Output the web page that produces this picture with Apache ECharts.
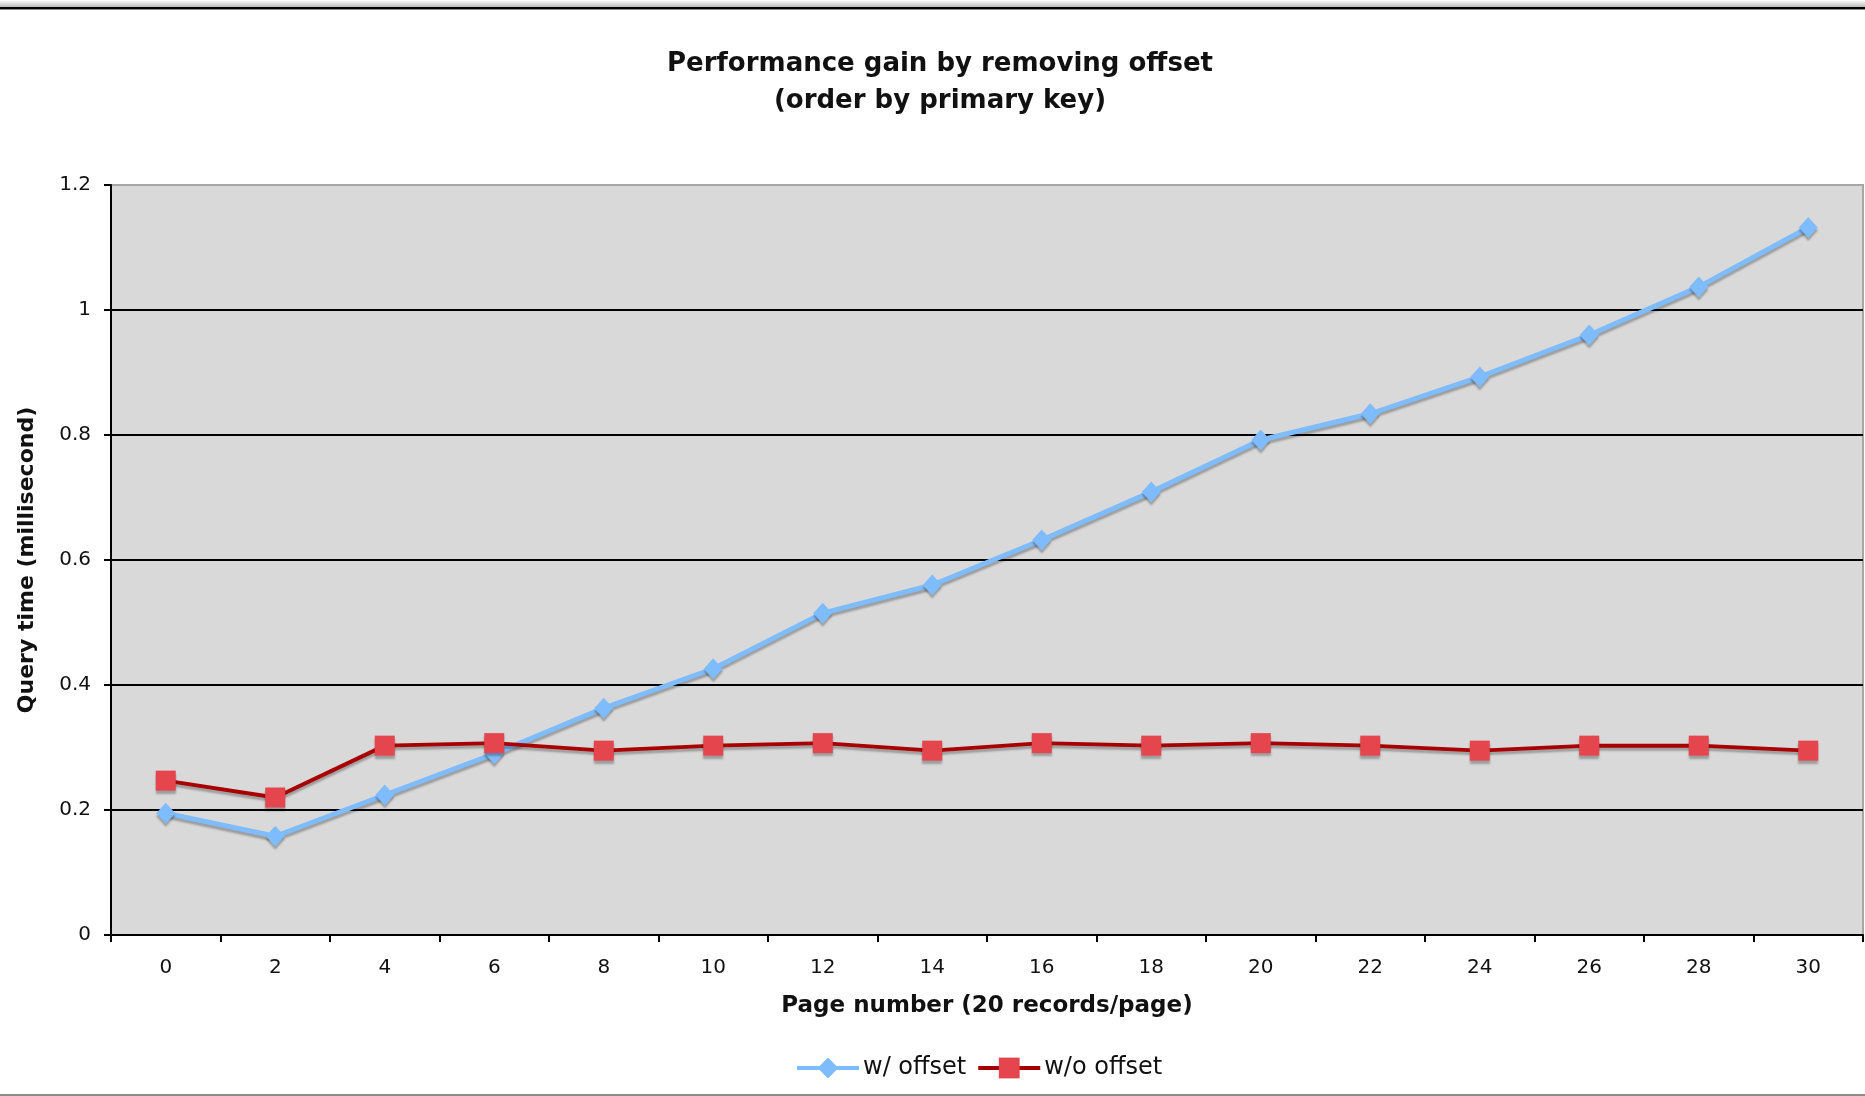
<!DOCTYPE html>
<html>
<head>
<meta charset="utf-8">
<script src="https://cdn.jsdelivr.net/npm/echarts@6/dist/echarts.min.js"></script>
<style>
html,body{margin:0;padding:0;background:#fff;}
#chart{width:1865px;height:1096px;}
</style>
</head>
<body>
<div id="chart"></div>
<script>
const pages = ['0','2','4','6','8','10','12','14','16','18','20','22','24','26','28','30'];
const withOffset = [0.195, 0.158, 0.224, 0.290, 0.363, 0.426, 0.515, 0.560, 0.632, 0.709, 0.792, 0.834, 0.893, 0.960, 1.037, 1.132];
const withoutOffset = [0.247, 0.220, 0.303, 0.307, 0.295, 0.303, 0.307, 0.295, 0.307, 0.303, 0.307, 0.303, 0.295, 0.303, 0.303, 0.295];
const yTicks = { min: 0, max: 1.2, interval: 0.2 };

const FONT = '"DejaVu Sans", Verdana, sans-serif';
const TXT = '#111';
const chart = echarts.init(document.getElementById('chart'), null, {renderer: 'canvas'});
const shadow = { shadowColor: 'rgba(0,0,0,0.28)', shadowBlur: 2, shadowOffsetX: 0, shadowOffsetY: 3 };

chart.setOption({
  backgroundColor: '#fff',
  animation: false,
  title: {
    text: 'Performance gain by removing offset\n(order by primary key)',
    left: 935, top: 41, textAlign: 'center',
    textStyle: { fontFamily: FONT, fontWeight: 'bold', fontSize: 26, lineHeight: 37, color: TXT }
  },
  legend: {
    left: 790, top: 1051,
    itemWidth: 62, itemHeight: 26, itemGap: 10,
    lineStyle: { width: 4 },
    textStyle: { fontFamily: FONT, fontSize: 24, color: TXT, padding: [0,0,0,-1] },
    data: ['w/ offset', 'w/o offset']
  },
  grid: {
    left: 111, right: 2, top: 185, bottom: 161,
    show: true, backgroundColor: '#d9d9d9', borderColor: '#a6a6a6', borderWidth: 2
  },
  xAxis: {
    type: 'category', data: pages, boundaryGap: true,
    name: 'Page number (20 records/page)', nameLocation: 'middle', nameGap: 60,
    nameTextStyle: { fontFamily: FONT, fontWeight: 'bold', fontSize: 23, color: TXT },
    axisLine: { lineStyle: { color: '#000', width: 2 } },
    axisTick: { show: true, length: 7, lineStyle: { color: '#000', width: 2 } },
    axisLabel: { interval: 0, margin: 23, fontFamily: FONT, fontSize: 20, color: TXT },
    splitLine: { show: false }
  },
  yAxis: {
    type: 'value', min: yTicks.min, max: yTicks.max, interval: yTicks.interval,
    name: 'Query time (millisecond)', nameLocation: 'middle', nameGap: 73,
    nameTextStyle: { fontFamily: FONT, fontWeight: 'bold', fontSize: 22, color: TXT },
    axisLine: { show: true, lineStyle: { color: '#000', width: 2 } },
    axisTick: { show: true, length: 7, lineStyle: { color: '#000', width: 2 } },
    axisLabel: { margin: 20, fontFamily: FONT, fontSize: 20, color: TXT,
      formatter: v => (Math.round(v * 10) / 10).toString() },
    splitLine: { show: true, showMinLine: false, showMaxLine: false, lineStyle: { color: '#000', width: 2 } }
  },
  series: [
    {
      name: 'w/ offset', type: 'line', data: withOffset,
      symbol: 'diamond', symbolSize: [19, 21],
      lineStyle: Object.assign({ color: '#7fbcff', width: 5 }, shadow),
      itemStyle: Object.assign({ color: '#7fbcff' }, shadow),
      z: 3
    },
    {
      name: 'w/o offset', type: 'line', data: withoutOffset,
      symbol: 'rect', symbolSize: 20,
      lineStyle: Object.assign({ color: '#a80000', width: 4 }, shadow),
      itemStyle: Object.assign({ color: '#e5464e' }, shadow),
      z: 4
    }
  ],
  graphic: [
    { type: 'rect', shape: { x: 0, y: 0, width: 1865, height: 7 },
      style: { fill: new echarts.graphic.LinearGradient(0,0,0,1,[{offset:0,color:'#ffffff'},{offset:1,color:'#bdbdbd'}]) }, silent: true },
    { type: 'rect', shape: { x: 0, y: 7, width: 1865, height: 2 }, style: { fill: '#000' }, silent: true },
    { type: 'rect', shape: { x: 0, y: 9, width: 1865, height: 1 }, style: { fill: '#8a8a8a' }, silent: true },
    { type: 'rect', shape: { x: 0, y: 1094, width: 1865, height: 2 }, style: { fill: '#8c8c8c' }, silent: true }
  ]
});
</script>
</body>
</html>
